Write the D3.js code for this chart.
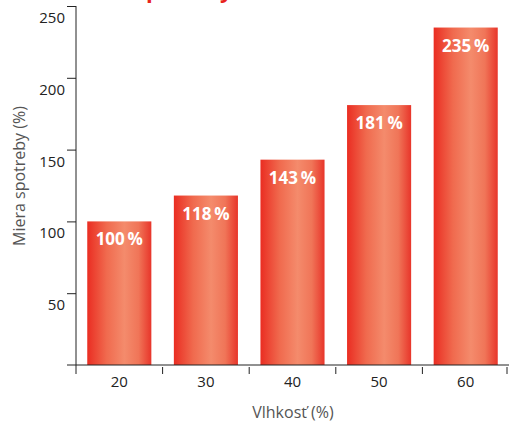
<!doctype html>
<html>
<head>
<meta charset="utf-8">
<title>Miera spotreby podľa vlhkosti</title>
<script src="https://d3js.org/d3.v7.min.js"></script>
<style>
  body { margin: 0; background: #fff; }
  svg { display: block; font-family: "Open Sans", "Noto Sans", sans-serif; }
</style>
</head>
<body>
<div id="plot"></div>
<script>
// data
const humidity = ["20", "30", "40", "50", "60"];
const consumption = [100, 118, 143, 181, 235];
const barLabels = ["100\u2009%", "118\u2009%", "143\u2009%", "181\u2009%", "235\u2009%"];
const yTicks = [50, 100, 150, 200, 250];

const W = 513, H = 423;
const plotLeft = 76, plotRight = 509, plotTop = 5, plotBottom = 365;

const svg = d3.select("#plot").append("svg")
  .attr("width", W)
  .attr("height", H);

// gradient for the bars (dark red edges, salmon middle)
const grad = svg.append("defs").append("linearGradient")
  .attr("id", "barGrad")
  .attr("x1", "0%").attr("x2", "100%")
  .attr("y1", "0%").attr("y2", "0%");
grad.append("stop").attr("offset", "0%").attr("stop-color", "#ea2d22");
grad.append("stop").attr("offset", "30%").attr("stop-color", "#f06a4e");
grad.append("stop").attr("offset", "58%").attr("stop-color", "#f48b6c");
grad.append("stop").attr("offset", "80%").attr("stop-color", "#f07558");
grad.append("stop").attr("offset", "100%").attr("stop-color", "#e8352a");

const x = d3.scaleBand()
  .domain(humidity)
  .range([plotLeft, plotRight])
  .paddingInner(0.26)
  .paddingOuter(0.13);

const xTickScale = d3.scaleBand()
  .domain(humidity)
  .range([plotLeft, plotRight]);

const y = d3.scaleLinear()
  .domain([0, 250])
  .range([plotBottom, plotTop + 1]);

// cut-off title at the very top (only descenders show, as in the original)
svg.append("text")
  .attr("x", 135)
  .attr("y", -2)
  .style("font-size", "22px")
  .style("font-weight", "bold")
  .style("fill", "#e8231d")
  .text("spotreby");

// bars
svg.selectAll("rect.bar")
  .data(consumption)
  .enter()
  .append("rect")
    .attr("class", "bar")
    .attr("x", (d, i) => x(humidity[i]))
    .attr("y", d => y(d))
    .attr("width", x.bandwidth())
    .attr("height", d => plotBottom - y(d))
    .style("fill", "url(#barGrad)");

// value labels inside the bars
svg.selectAll("text.val")
  .data(consumption)
  .enter()
  .append("text")
    .attr("class", "val")
    .attr("x", (d, i) => x(humidity[i]) + x.bandwidth() / 2)
    .attr("y", d => y(d) + 24)
    .attr("text-anchor", "middle")
    .style("font-size", "17px")
    .style("font-weight", "bold")
    .style("fill", "#fff")
    .text((d, i) => barLabels[i]);

// y axis
const yAxis = svg.append("g")
  .attr("transform", `translate(${plotLeft},0)`)
  .call(d3.axisLeft(y).tickValues(yTicks).tickSize(9).tickSizeOuter(0));
yAxis.select(".domain").remove();
yAxis.selectAll("line").attr("stroke", "#222");
yAxis.selectAll("text")
  .attr("x", -11)
  .attr("dy", "1.1em")
  .style("font-size", "15px")
  .style("fill", "#222")
  .style("font-family", "'Open Sans', 'Noto Sans', sans-serif");

// y axis line (extends a little under the baseline)
svg.append("line")
  .attr("x1", plotLeft).attr("x2", plotLeft)
  .attr("y1", plotTop + 1).attr("y2", plotBottom + 9)
  .attr("stroke", "#222");

// x axis baseline
svg.append("line")
  .attr("x1", plotLeft - 9).attr("x2", plotRight)
  .attr("y1", plotBottom).attr("y2", plotBottom)
  .attr("stroke", "#222");

// x tick marks between categories
const xTickPos = humidity.map(h => xTickScale(h)).concat([plotRight - 2]);
svg.selectAll("line.xt")
  .data(xTickPos.slice(1))
  .enter()
  .append("line")
    .attr("class", "xt")
    .attr("x1", d => d).attr("x2", d => d)
    .attr("y1", plotBottom + 2).attr("y2", plotBottom + 9)
    .attr("stroke", "#222");

// x tick labels
svg.selectAll("text.xl")
  .data(humidity)
  .enter()
  .append("text")
    .attr("class", "xl")
    .attr("x", d => x(d) + x.bandwidth() / 2)
    .attr("y", plotBottom + 22)
    .attr("text-anchor", "middle")
    .style("font-size", "15px")
    .style("fill", "#222")
    .text(d => d);

// axis titles
svg.append("text")
  .attr("x", 293)
  .attr("y", 418)
  .attr("text-anchor", "middle")
  .style("font-size", "16px")
  .style("fill", "#555")
  .text("Vlhkosť (%)");

svg.append("text")
  .attr("transform", "translate(25,176) rotate(-90)")
  .attr("text-anchor", "middle")
  .style("font-size", "16px")
  .style("fill", "#555")
  .text("Miera spotreby (%)");
</script>
</body>
</html>
